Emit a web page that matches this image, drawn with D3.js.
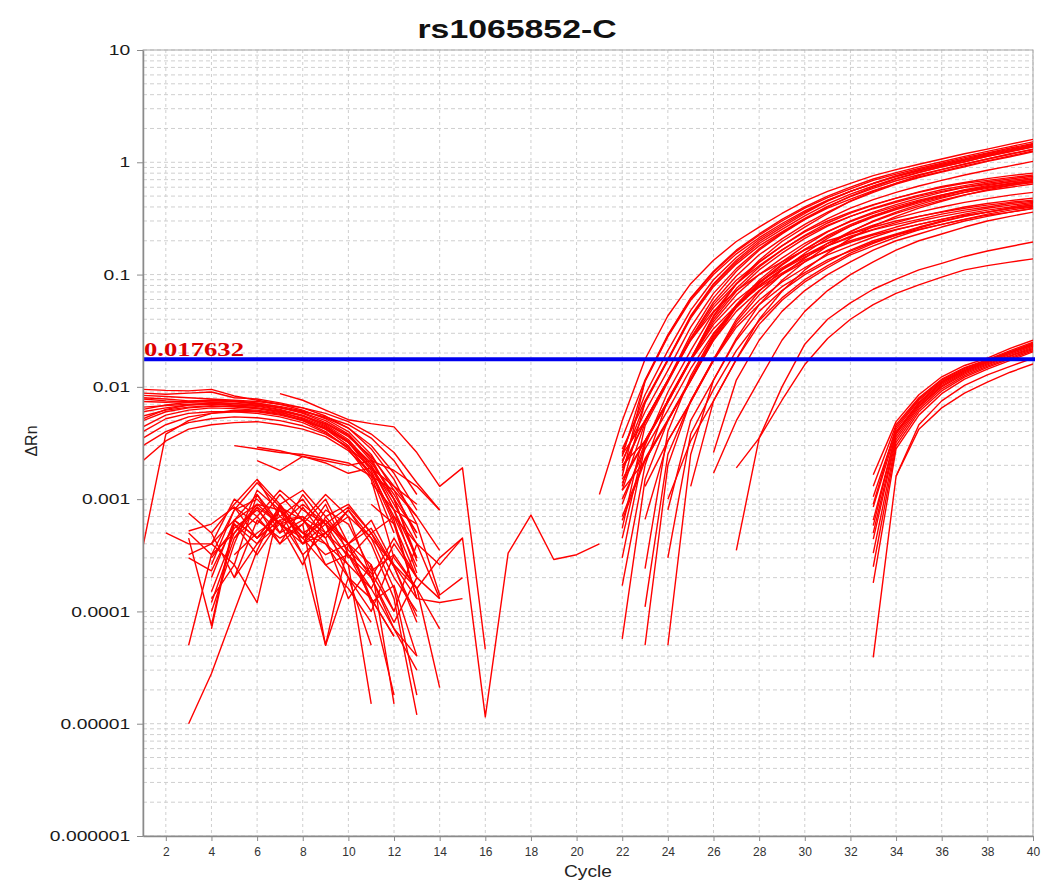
<!DOCTYPE html>
<html lang="en">
<head>
<meta charset="UTF-8">
<script src="https://cdn.jsdelivr.net/npm/d3@7"></script>
<title>rs1065852-C</title>
<style>
  body { margin: 0; background: #fff; }
</style>
</head>
<body>
<div id="chart"></div>
<script>
// ΔRn, one object per well: s = first cycle, v = values per cycle
var thresholdValue = 0.017632;
var xTicks = [2, 4, 6, 8, 10, 12, 14, 16, 18, 20, 22, 24, 26, 28, 30, 32, 34, 36, 38, 40];
var yTicks = [1e-6, 1e-5, 1e-4, 1e-3, 1e-2, 1e-1, 1, 10];
var yTickLabels = ["0.000001", "0.00001", "0.0001", "0.001", "0.01", "0.1", "1", "10"];

// early cycles, high baseline wells
var earlyHigh = [
  {s: 1, v: [9.5e-3, 9.3e-3, 9.2e-3, 9.5e-3, 8.3e-3, 7.6e-3, 7.0e-3, 6.2e-3, 5.2e-3, 4.0e-3, 2.5e-3, 1.2e-3, 4.5e-4]},
  {s: 1, v: [8.8e-3, 8.6e-3, 8.8e-3, 9.0e-3, 8.0e-3, 7.8e-3, 7.2e-3, 6.5e-3, 5.5e-3, 4.3e-3, 2.8e-3, 1.5e-3, 6e-4]},
  {s: 1, v: [8.0e-3, 7.8e-3, 7.5e-3, 7.6e-3, 7.5e-3, 7.2e-3, 6.6e-3, 5.8e-3, 4.8e-3, 3.7e-3, 2.2e-3, 1.0e-3, 3e-4]},
  {s: 1, v: [7.4e-3, 7.3e-3, 7.4e-3, 7.3e-3, 7.1e-3, 6.8e-3, 6.3e-3, 5.6e-3, 4.6e-3, 3.4e-3, 2.0e-3, 8e-4, 2.2e-4]},
  {s: 1, v: [6.6e-3, 6.8e-3, 7.0e-3, 7.1e-3, 6.9e-3, 6.7e-3, 6.2e-3, 5.5e-3, 4.5e-3, 3.2e-3, 1.8e-3, 6.5e-4, 1.3e-4]},
  {s: 1, v: [6.0e-3, 6.5e-3, 6.9e-3, 7.0e-3, 6.8e-3, 6.5e-3, 6.0e-3, 5.2e-3, 4.2e-3, 3.0e-3, 1.6e-3, 5e-4]},
  {s: 1, v: [5.5e-3, 6.2e-3, 6.6e-3, 6.8e-3, 6.6e-3, 6.4e-3, 5.9e-3, 5.3e-3, 4.4e-3, 3.3e-3, 2.1e-3, 1.1e-3, 5e-4]},
  {s: 1, v: [5.0e-3, 6.0e-3, 6.5e-3, 6.7e-3, 6.7e-3, 6.5e-3, 6.1e-3, 5.5e-3, 4.7e-3, 3.6e-3, 2.4e-3, 1.3e-3, 7e-4]},
  {s: 1, v: [4.4e-3, 5.6e-3, 6.2e-3, 6.5e-3, 6.4e-3, 6.2e-3, 5.8e-3, 5.0e-3, 4.0e-3, 2.8e-3, 1.5e-3, 3e-4]},
  {s: 1, v: [4.0e-3, 5.2e-3, 5.8e-3, 6.0e-3, 6.0e-3, 5.8e-3, 5.4e-3, 4.8e-3, 3.9e-3, 2.9e-3, 1.7e-3, 7e-4, 2.5e-4]},
  {s: 1, v: [3.5e-3, 4.6e-3, 5.4e-3, 5.8e-3, 6.0e-3, 6.0e-3, 5.6e-3, 5.0e-3, 4.2e-3, 3.2e-3, 2.0e-3, 9e-4, 4e-4]},
  {s: 1, v: [3.0e-3, 4.0e-3, 4.8e-3, 5.2e-3, 5.4e-3, 5.3e-3, 5.0e-3, 4.5e-3, 3.8e-3, 2.9e-3, 1.9e-3, 1.0e-3, 5e-4]},
  {s: 1, v: [2.2e-3, 3.3e-3, 4.2e-3, 4.6e-3, 4.8e-3, 4.9e-3, 4.6e-3, 4.2e-3, 3.6e-3, 2.7e-3, 1.7e-3, 6e-4, 2e-4]},
  {s: 1, v: [3.8e-4, 3.8e-3, 5.0e-3, 5.8e-3, 6.2e-3, 6.1e-3, 5.7e-3, 5.1e-3, 4.3e-3, 3.2e-3, 1.9e-3, 8e-4, 3e-4]},
  {s: 1, v: [7.8e-3, 7.5e-3, 7.3e-3, 7.5e-3, 7.4e-3, 7.0e-3, 6.5e-3, 6.0e-3, 5.4e-3, 4.6e-3, 3.5e-3, 2.2e-3, 1.1e-3]},
  {s: 1, v: [8.4e-3, 8.2e-3, 8.0e-3, 7.8e-3, 7.6e-3, 7.4e-3, 7.0e-3, 6.5e-3, 5.8e-3, 4.9e-3, 3.8e-3, 2.6e-3, 1.4e-3, 8e-4]},
  {s: 1, v: [6.3e-3, 6.9e-3, 7.3e-3, 7.6e-3, 7.4e-3, 7.1e-3, 6.7e-3, 6.1e-3, 5.3e-3, 4.3e-3, 3.0e-3, 1.7e-3, 8e-4]},
  {s: 1, v: [5.2e-3, 6.3e-3, 6.9e-3, 7.2e-3, 7.1e-3, 6.9e-3, 6.5e-3, 5.9e-3, 5.0e-3, 3.8e-3, 2.3e-3, 1.0e-3, 2.8e-4]},
  {s: 5, v: [3.0e-3, 2.8e-3, 2.6e-3, 2.5e-3, 2.3e-3, 2.1e-3, 1.6e-3, 1.2e-3, 7e-4, 3.5e-4]},
  {s: 6, v: [2.9e-3, 2.7e-3, 2.4e-3, 2.2e-3, 2.0e-3, 2.2e-3, 1.8e-3, 1.3e-3, 8e-4]},
  {s: 6, v: [2.2e-3, 1.8e-3, 2.4e-3, 2.1e-3, 1.7e-3, 1.9e-3, 1.3e-3, 9e-4]},
  {s: 7, v: [8.7e-3, 7.6e-3, 6.2e-3, 5.1e-3, 4.7e-3, 4.4e-3, 2.6e-3, 1.3e-3, 1.9e-3, 4.6e-5]}
];

// early cycles, noisy low wells
var earlyNoise = [
  {s: 3, v: [5e-4, 3.2e-4, 8e-4, 1.0e-3, 6e-4, 4e-4, 5e-4, 2.6e-4, 1.6e-4, 7e-5, 3e-5]},
  {s: 3, v: [5.2e-4, 6e-4, 8.5e-4, 4.5e-4, 6.5e-4, 3.2e-4, 5e-5, 2e-4, 1.3e-4, 6e-5]},
  {s: 3, v: [4.5e-4, 7.5e-5, 6.5e-4, 9e-4, 8e-4, 5e-4, 4e-4, 2.6e-4, 1.5e-5]},
  {s: 3, v: [3.2e-4, 4e-4, 2.6e-4, 1.1e-3, 5e-4, 6.5e-4, 4e-4, 2e-4, 5e-5]},
  {s: 3, v: [3e-4, 2.3e-4, 6e-4, 4e-4, 8e-4, 4.5e-4, 2.6e-4, 3.2e-4, 1.3e-4, 1.8e-5]},
  {s: 3, v: [5e-5, 3.2e-4, 5e-4, 8.5e-4, 6e-4, 7e-4, 2.6e-4, 1.6e-4, 8e-5]},
  {s: 3, v: [1e-5, 2.8e-5, 1e-4, 3.5e-4, 9e-4, 5e-4, 3.2e-4, 4e-4, 1.3e-4, 6e-5]},
  {s: 2, v: [5e-4, 4e-4, 4e-4, 6.5e-4, 4.5e-4, 8.5e-4, 4e-4, 6e-4, 2e-4, 1e-4, 3.2e-4]},
  {s: 4, v: [1e-4, 4e-4, 1.2e-3, 8e-4, 4.5e-4, 9e-4, 3.2e-4, 2e-4, 7e-5, 4e-5]},
  {s: 4, v: [7e-5, 6e-4, 3.2e-4, 6.5e-4, 7e-4, 5e-4, 8e-4, 4e-4, 1.3e-4, 1.2e-5]},
  {s: 4, v: [1.3e-4, 2.6e-4, 1.2e-4, 9e-4, 4e-4, 8e-4, 6e-4, 2.3e-4, 3.2e-4, 1.6e-4, 7e-5]},
  {s: 4, v: [5e-4, 2e-4, 6.5e-4, 4.5e-4, 6e-4, 5e-5, 4e-4, 6.5e-4, 2.6e-4, 1.6e-4, 2.1e-5]},
  {s: 4, v: [1.2e-4, 4.5e-4, 7e-4, 4e-4, 8.5e-4, 4.5e-4, 1.3e-4, 2.6e-4, 1.5e-5]},
  {s: 5, v: [6.5e-4, 1.1e-3, 6e-4, 4.5e-4, 6.5e-4, 4e-4, 2.6e-4, 1e-4, 4e-4, 1.3e-4]},
  {s: 5, v: [3.2e-4, 5e-4, 7e-4, 1.0e-3, 5e-4, 7e-4, 2e-4, 8e-5, 2e-4]},
  {s: 4, v: [2.6e-4, 8e-4, 1.4e-3, 8.5e-4, 6.5e-4, 1.1e-3, 7e-4, 4.5e-4, 2.6e-4, 1.3e-4]},
  {s: 4, v: [4e-4, 1.0e-3, 7e-4, 1.2e-3, 8e-4, 6e-4, 8.5e-4, 5e-4, 2e-4, 1e-4]},
  {s: 5, v: [8.5e-4, 6e-4, 1.1e-3, 6.5e-4, 4.5e-4, 8e-4, 4.5e-4, 1.6e-4, 1.8e-5]},
  {s: 4, v: [2e-4, 6.5e-4, 4.5e-4, 8e-4, 3.2e-4, 5e-4, 3.2e-4, 1.6e-4, 4e-4, 2e-4]},
  {s: 5, v: [4.5e-4, 8.5e-4, 4e-4, 6e-4, 1.0e-3, 4e-4, 2e-4, 4.5e-4, 2e-4, 1.3e-4]},
  {s: 4, v: [1.5e-4, 5e-4, 9e-4, 6e-4, 2.6e-4, 7e-4, 4e-4, 1.2e-4, 1.7e-4, 4e-5]},
  {s: 6, v: [1.5e-3, 9e-4, 1.2e-3, 7e-4, 9e-4, 5e-4, 7e-4, 4e-4, 2.6e-4, 4.5e-4]},
  {s: 3, v: [7.5e-4, 5e-4, 9e-4, 1.5e-3, 7e-4, 5e-4, 6.5e-4, 3.5e-4, 2.2e-4, 1e-4]},
  {s: 4, v: [3e-4, 5.5e-4, 8e-4, 5e-4, 1.1e-3, 6e-4, 4e-4, 5.5e-4, 2.5e-4, 9e-5]},
  {s: 5, v: [2e-4, 4e-4, 6e-4, 9e-4, 6e-4, 3e-4, 5e-4, 2.5e-4, 8e-5]},
  {s: 11, v: [9e-4, 6e-4, 1.3e-4, 1.2e-4, 1.3e-4]},
  {s: 12, v: [3e-4, 1.6e-4, 3e-4, 4.5e-4, 1.15e-5, 3.3e-4, 7.2e-4, 2.9e-4, 3.2e-4, 4e-4]},
  {s: 11, v: [1.4e-3, 8e-4, 6e-4, 1.4e-4, 2e-4]}
];

// amplifying wells, cycles 21-40
var ampMain = [
  {s: 21, v: [1.1e-3, 5e-3, .0176, .043, .083, .134, .197, .265, .35, .45, .55, .65, .76, .86, .96, 1.07, 1.19, 1.31, 1.45, 1.6]},
  {s: 22, v: [3.5e-3, .0115, .029, .062, .107, .165, .23, .31, .40, .50, .60, .71, .81, .91, 1.01, 1.13, 1.25, 1.38, 1.52]},
  {s: 22, v: [2.4e-3, .0112, .028, .059, .1, .153, .213, .285, .37, .46, .55, .65, .75, .84, .93, 1.04, 1.15, 1.27, 1.41]},
  {s: 22, v: [2.8e-3, 7.5e-3, .0176, .043, .083, .134, .197, .265, .35, .45, .55, .65, .76, .86, .96, 1.07, 1.19, 1.31, 1.45]},
  {s: 22, v: [2.1e-3, 7.2e-3, .0172, .041, .078, .124, .18, .24, .316, .405, .495, .585, .685, .775, .865, .965, 1.07, 1.18, 1.3]},
  {s: 22, v: [1.8e-3, 5e-3, .0115, .029, .062, .107, .165, .23, .31, .40, .50, .60, .71, .81, .91, 1.01, 1.13, 1.25, 1.38]},
  {s: 22, v: [5.5e-4, 4.5e-3, .011, .027, .057, .097, .15, .208, .28, .36, .45, .54, .64, .73, .82, .91, 1.02, 1.12, 1.24]},
  {s: 22, v: [1.3e-3, 7.3e-3, .0175, .042, .081, .129, .189, .253, .333, .427, .52, .615, .72, .815, .91, 1.01, 1.13, 1.24, 1.37]},
  {s: 22, v: [1.5e-3, 3.3e-3, 7.5e-3, .0176, .043, .083, .134, .197, .265, .35, .45, .55, .65, .76, .86, .96, 1.07, 1.19, 1.31]},
  {s: 22, v: [1.6e-3, .0113, .0285, .061, .105, .161, .224, .30, .39, .485, .58, .69, .785, .88, .98, 1.1, 1.21, 1.34, 1.47]},
  {s: 22, v: [2.6e-3, 8.5e-3, .021, .048, .09, .142, .205, .275, .36, .455, .55, .645, .745, .84, .94, 1.05, 1.17, 1.29, 1.42]},
  {s: 22, v: [2.2e-3, 6e-3, .014, .034, .068, .113, .17, .235, .31, .39, .47, .56, .65, .74, .83, .93, 1.03, 1.14, 1.26]},
  {s: 22, v: [3e-4, 3e-3, 9e-3, .021, .046, .082, .128, .18, .245, .315, .39, .465, .54, .615, .69, .77, .85, .93, 1.02]},
  {s: 22, v: [2.5e-3, 5e-3, .0115, .027, .054, .089, .13, .18, .24, .30, .36, .42, .48, .54, .60, .65, .69, .73, .77]},
  {s: 22, v: [2.0e-3, 3.3e-3, 7.5e-3, .0176, .040, .071, .11, .155, .21, .27, .33, .39, .45, .51, .57, .62, .67, .71, .75]},
  {s: 22, v: [1.7e-4, 2.0e-3, 7.7e-3, .0178, .042, .075, .117, .165, .224, .288, .352, .416, .48, .545, .61, .66, .715, .76, .80]},
  {s: 22, v: [5.7e-5, 1.5e-3, 5e-3, .0115, .027, .054, .089, .13, .18, .24, .30, .36, .42, .48, .54, .60, .65, .69, .73]},
  {s: 22, v: [6.5e-4, 2.2e-3, 5e-3, .0113, .026, .051, .083, .121, .167, .223, .279, .335, .39, .446, .50, .56, .605, .64, .68]},
  {s: 23, v: [5e-5, 2e-3, 7.5e-3, .0176, .040, .071, .11, .155, .21, .27, .33, .39, .45, .51, .57, .62, .67, .71]},
  {s: 22, v: [4.5e-4, 3.2e-3, 7.3e-3, .0172, .038, .066, .10, .14, .19, .243, .297, .351, .405, .46, .513, .56, .60, .64, .675]},
  {s: 24, v: [5e-5, 2.5e-3, .0115, .027, .054, .089, .13, .18, .24, .30, .36, .42, .48, .54, .60, .65, .69]},
  {s: 23, v: [6.6e-4, 3.3e-3, 7.3e-3, .0172, .038, .066, .10, .14, .19, .243, .297, .351, .405, .46, .513, .56, .60, .64]},
  {s: 23, v: [2.4e-4, 4e-3, .0125, .029, .053, .085, .124, .168, .218, .27, .325, .38, .435, .49, .54, .585, .625, .66]},
  {s: 22, v: [1.2e-3, 4.8e-3, .0113, .026, .051, .083, .12, .166, .22, .276, .33, .386, .44, .50, .55, .60, .635, .67, .71]},
  {s: 25, v: [1.3e-3, 7.5e-3, .0176, .040, .071, .11, .155, .21, .27, .33, .39, .45, .51, .57, .62, .67]},
  {s: 22, v: [1.0e-3, 2.8e-3, 6.2e-3, .0145, .030, .052, .080, .112, .148, .19, .232, .275, .318, .36, .40, .44, .475, .51, .54]},
  {s: 22, v: [1.9e-3, 5e-3, .0115, .026, .047, .072, .10, .13, .165, .20, .23, .265, .30, .33, .36, .39, .415, .44, .46]},
  {s: 22, v: [1.4e-3, 3.3e-3, 7.5e-3, .0176, .036, .059, .086, .115, .15, .18, .215, .25, .28, .31, .345, .375, .40, .43, .45]},
  {s: 22, v: [1.2e-3, 2.2e-3, 5e-3, .0115, .026, .047, .072, .10, .13, .165, .20, .23, .265, .30, .33, .36, .39, .415, .44]},
  {s: 22, v: [7e-4, 2.3e-3, 5.1e-3, .0118, .028, .051, .079, .11, .143, .18, .22, .253, .29, .33, .363, .40, .43, .456, .48]},
  {s: 23, v: [1.1e-4, 2.5e-3, 7.5e-3, .0176, .036, .059, .086, .115, .15, .18, .215, .25, .28, .31, .345, .375, .40, .43]},
  {s: 23, v: [1.3e-3, 3.3e-3, 7.4e-3, .0172, .034, .054, .078, .104, .135, .162, .194, .225, .252, .28, .31, .338, .36, .387]},
  {s: 24, v: [8e-4, 5e-3, .0115, .026, .047, .072, .10, .13, .165, .20, .23, .265, .30, .33, .36, .39, .415]},
  {s: 24, v: [1.0e-3, 3.3e-3, 7.5e-3, .0176, .036, .059, .086, .115, .15, .18, .215, .25, .28, .31, .345, .375, .40]},
  {s: 24, v: [3e-4, 3.8e-3, 9.5e-3, .021, .039, .062, .09, .12, .155, .19, .225, .26, .295, .33, .36, .39, .42]},
  {s: 26, v: [2.6e-3, .0115, .026, .047, .072, .10, .13, .165, .20, .23, .265, .30, .33, .36, .39]},
  {s: 26, v: [1.7e-3, 5e-3, .0115, .026, .047, .072, .10, .13, .165, .20, .23, .265, .30, .33, .36]},
  {s: 22, v: [9e-4, 3.2e-3, 7.3e-3, .0172, .033, .053, .077, .103, .135, .162, .194, .225, .252, .28, .31, .338, .36, .387, .405]},
  {s: 27, v: [3.5e-4, 3.5e-3, .010, .024, .040, .056, .074, .091, .11, .126, .145, .162, .178, .195]},
  {s: 27, v: [1.9e-3, 3.5e-3, 7.6e-3, .0158, .027, .040, .054, .068, .081, .095, .11, .12, .129, .138]}
];

// late wells, cycles 33-40
var ampLate = [
  {s: 33, v: [1.65e-3, 4.9e-3, 8.5e-3, .0123, .0155, .018, .022, .026]},
  {s: 33, v: [1.3e-3, 4.6e-3, 8.0e-3, .0117, .0148, .0175, .021, .025]},
  {s: 33, v: [1.05e-3, 4.2e-3, 7.6e-3, .0112, .0143, .017, .0205, .024]},
  {s: 33, v: [8.5e-4, 4.0e-3, 7.2e-3, .0108, .0139, .0167, .020, .0235]},
  {s: 33, v: [6.5e-4, 3.8e-3, 7.0e-3, .0105, .0136, .0164, .0195, .023]},
  {s: 33, v: [5e-4, 3.6e-3, 6.8e-3, .0102, .0133, .016, .019, .0225]},
  {s: 33, v: [4.4e-4, 3.4e-3, 6.6e-3, .010, .013, .0157, .0187, .022]},
  {s: 33, v: [3.3e-4, 3.2e-3, 6.3e-3, 9.6e-3, .0126, .0153, .0182, .0215]},
  {s: 33, v: [2.5e-4, 3.0e-3, 6.0e-3, 9.2e-3, .0122, .0149, .0178, .021]},
  {s: 33, v: [1.8e-4, 2.8e-3, 5.6e-3, 8.7e-3, .0117, .0144, .0172, .0205]},
  {s: 33, v: [3.9e-5, 1.6e-3, 4.6e-3, 7.5e-3, .0103, .0128, .0152, .018]},
  {s: 34, v: [1.6e-3, 4.2e-3, 6.5e-3, 8.8e-3, .011, .0135, .016]},
  {s: 33, v: [9e-4, 4.4e-3, 7.8e-3, .0115, .0146, .0173, .0205, .0245]},
  {s: 33, v: [5.8e-4, 3.9e-3, 7.3e-3, .011, .014, .0168, .020, .024]}
];

var width = 1042, height = 883;
var mLeft = 143, mRight = 1033, mTop = 50, mBottom = 836;

var x = d3.scaleLinear().domain([1, 40]).range([mLeft, mRight]);
var y = d3.scaleLog().domain([1e-6, 10]).range([mBottom, mTop]);

var svg = d3.select("#chart").append("svg")
  .attr("width", width)
  .attr("height", height)
  .style("display", "block")
  .style("background", "#fff");

// grid
var grid = svg.append("g");
grid.selectAll("line.h")
  .data(y.ticks())
  .join("line")
  .attr("class", "h")
  .attr("x1", mLeft).attr("x2", mRight)
  .attr("y1", d => y(d)).attr("y2", d => y(d))
  .attr("stroke", "#cfcfcf")
  .attr("stroke-dasharray", "4,3");
grid.selectAll("line.v")
  .data(xTicks)
  .join("line")
  .attr("class", "v")
  .attr("x1", d => x(d)).attr("x2", d => x(d))
  .attr("y1", mTop).attr("y2", mBottom)
  .attr("stroke", "#cfcfcf")
  .attr("stroke-dasharray", "3,3");

// frame
svg.append("rect")
  .attr("x", mLeft).attr("y", mTop)
  .attr("width", mRight - mLeft).attr("height", mBottom - mTop)
  .attr("fill", "none")
  .attr("stroke", "#a8a8a8");

svg.append("clipPath").attr("id", "clip")
  .append("rect")
  .attr("x", mLeft).attr("y", mTop)
  .attr("width", mRight - mLeft).attr("height", mBottom - mTop);

var line = d3.line()
  .x(d => x(d[0]))
  .y(d => y(d[1]));

var allWells = [].concat(earlyHigh, earlyNoise, ampMain, ampLate);

svg.append("g").attr("clip-path", "url(#clip)")
  .selectAll("path")
  .data(allWells)
  .join("path")
  .attr("d", w => line(w.v.map((val, i) => [w.s + i, val])))
  .attr("fill", "none")
  .attr("stroke", "#ff0000")
  .attr("stroke-width", 1.4)
  .attr("stroke-linejoin", "round");

// threshold
svg.append("line")
  .attr("x1", mLeft).attr("x2", mRight + 2)
  .attr("y1", y(thresholdValue)).attr("y2", y(thresholdValue))
  .attr("stroke", "#0000ee")
  .attr("stroke-width", 4);

svg.append("text")
  .attr("x", mLeft + 1)
  .attr("y", y(thresholdValue) - 3)
  .attr("font-family", "Liberation Serif, Times New Roman, serif")
  .attr("font-weight", "bold")
  .attr("font-size", 18)
  .attr("fill", "#dd0000")
  .attr("textLength", 100)
  .attr("lengthAdjust", "spacingAndGlyphs")
  .text(d3.format(".6f")(thresholdValue).replace(/0+$/, ""));

// axes
var yAxis = d3.axisLeft(y)
  .tickValues(yTicks)
  .tickFormat((d, i) => yTickLabels[i])
  .tickSize(6)
  .tickSizeOuter(0)
  .tickPadding(3.6);

svg.append("g")
  .attr("transform", "translate(" + mLeft + ",0)")
  .call(yAxis)
  .call(g => g.select(".domain").attr("stroke", "#8a8a8a").attr("stroke-width", 1.5))
  .call(g => g.selectAll(".tick line").attr("stroke", "#8a8a8a"))
  .call(g => g.selectAll(".tick text")
    .attr("font-family", "Liberation Sans, Arial, sans-serif")
    .attr("font-size", 14.5)
    .attr("fill", "#1a1a1a")
    .attr("transform", "scale(1.33,1)"));

var xAxis = d3.axisBottom(x)
  .tickValues(xTicks)
  .tickSize(5)
  .tickSizeOuter(0)
  .tickPadding(6);

svg.append("g")
  .attr("transform", "translate(0," + mBottom + ")")
  .call(xAxis)
  .call(g => g.select(".domain").attr("stroke", "#8a8a8a").attr("stroke-width", 1.5))
  .call(g => g.selectAll(".tick line").attr("stroke", "#8a8a8a"))
  .call(g => g.selectAll(".tick text")
    .attr("font-family", "Liberation Sans, Arial, sans-serif")
    .attr("font-size", 12)
    .attr("fill", "#333"));

// titles
svg.append("text")
  .attr("transform", "translate(517,38) scale(1.3,1)")
  .attr("text-anchor", "middle")
  .attr("font-family", "Liberation Sans, Arial, sans-serif")
  .attr("font-weight", "bold")
  .attr("font-size", 26)
  .attr("fill", "#111")
  .text("rs1065852-C");

svg.append("text")
  .attr("transform", "translate(588,877) scale(1.2,1)")
  .attr("text-anchor", "middle")
  .attr("font-family", "Liberation Sans, Arial, sans-serif")
  .attr("font-size", 16)
  .attr("fill", "#222")
  .text("Cycle");

svg.append("text")
  .attr("transform", "translate(37,441) rotate(-90)")
  .attr("text-anchor", "middle")
  .attr("font-family", "Liberation Sans, Arial, sans-serif")
  .attr("font-size", 16)
  .attr("fill", "#222")
  .text("ΔRn");
</script>
</body>
</html>
